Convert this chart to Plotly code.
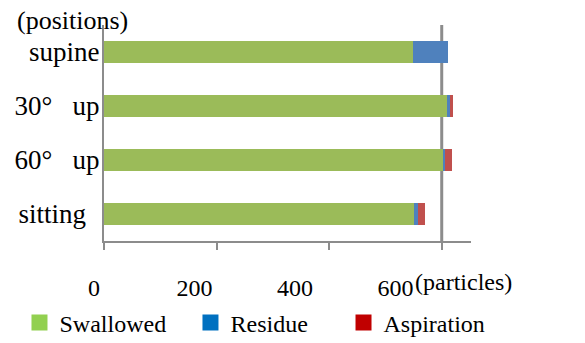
import plotly.graph_objects as go

positions = ["supine", "30°\u00a0\u00a0\u00a0up", "60°\u00a0\u00a0\u00a0up", "sitting\u00a0\u00a0"]
swallowed = [549, 609, 602, 550]
residue = [62, 5, 4, 8]
aspiration = [0, 6, 12, 12]

series_names = ["Swallowed", "Residue", "Aspiration"]
bar_colors = ["#9BBB59", "#4F81BD", "#C0504D"]
legend_colors = ["#92D050", "#0070C0", "#C00000"]
legend_ids = ["legend", "legend2", "legend3"]
legend_x = [0.0333, 0.3256, 0.5872]
x_ticks = [0, 200, 400, 600]

FONT = "Liberation Serif, Times New Roman, serif"
AXIS_GRAY = "#8C8C8C"

fig = go.Figure()
for name, vals, col in zip(series_names, [swallowed, residue, aspiration], bar_colors):
    fig.add_trace(go.Bar(y=positions, x=vals, orientation="h", name=name,
                         marker=dict(color=col, line=dict(width=0)), showlegend=False))
for name, col, lg in zip(series_names, legend_colors, legend_ids):
    fig.add_trace(go.Scatter(x=[None], y=[None], mode="markers", name=name, legend=lg,
                             marker=dict(symbol="square", size=16, color=col)))
# invisible trace carrying the tick-label axis (labels sit slightly left of the ticks, as in the original)
fig.add_trace(go.Scatter(x=[None], y=[None], xaxis="x2", yaxis="y", mode="markers",
                         showlegend=False, hoverinfo="skip"))

fig.add_shape(type="line", xref="x", yref="paper", x0=600, x1=600, y0=0, y1=1,
              line=dict(color=AXIS_GRAY, width=3), layer="below")

legend_style = dict(orientation="h", xref="container", yref="container", xanchor="left",
                    y=0.0583, yanchor="middle", font=dict(size=24, family=FONT),
                    itemwidth=30, bgcolor="rgba(0,0,0,0)")
legends = {lg: dict(legend_style, x=lx) for lg, lx in zip(legend_ids, legend_x)}

fig.update_layout(
    width=585, height=343,
    margin=dict(l=94, r=114, t=25, b=102, autoexpand=False),
    barmode="stack", bargap=0.59,
    plot_bgcolor="rgba(0,0,0,0)", paper_bgcolor="white",
    font=dict(family=FONT, size=24, color="black"),
    xaxis=dict(domain=[10 / 377, 1], range=[0, 652], tickvals=x_ticks, showticklabels=False,
               showgrid=False, zeroline=False, showline=True, linecolor=AXIS_GRAY, linewidth=2,
               ticks="outside", ticklen=7, tickwidth=2, tickcolor=AXIS_GRAY, automargin=False),
    xaxis2=dict(anchor="free", position=0, side="bottom", domain=[0, 1], range=[0, 750.2],
                tickvals=x_ticks, ticktext=[str(v) for v in x_ticks],
                showgrid=False, zeroline=False, showline=False, ticks="", automargin=False,
                ticklabelstandoff=30, tickfont=dict(size=24, family=FONT)),
    yaxis=dict(autorange="reversed", showgrid=False, zeroline=False, showline=True,
               linecolor=AXIS_GRAY, linewidth=2, ticks="", ticklabelstandoff=-3, automargin=False,
               tickfont=dict(size=27, family=FONT)),
    annotations=[
        dict(text="(positions)", xref="paper", yref="paper", x=-0.21, y=1.0, xanchor="left",
             yanchor="bottom", showarrow=False, font=dict(size=26, family=FONT), yshift=-12),
        dict(text="(particles)", xref="x2", yref="paper", x=600, y=0, xanchor="left",
             yanchor="top", showarrow=False, font=dict(size=24, family=FONT), yshift=-26, xshift=17),
    ],
    **legends,
)

fig.write_html("out.html", config={"displayModeBar": False},
               post_script="document.body.style.margin='0';")
